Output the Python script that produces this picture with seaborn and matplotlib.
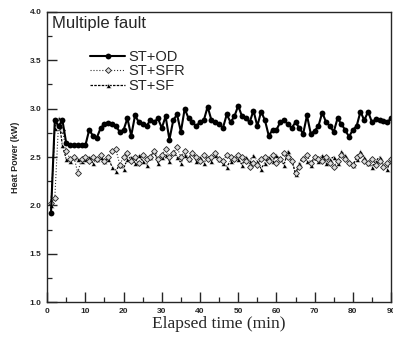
import matplotlib
matplotlib.use("Agg")
import matplotlib.pyplot as plt
import seaborn as sns
import numpy as np
import pandas as pd

# elapsed time (min)
time_min = np.arange(1, 91)

st_od = [1.92, 2.88, 2.82, 2.88, 2.64, 2.62, 2.62, 2.62, 2.62, 2.62,
         2.78, 2.72, 2.70, 2.80, 2.84, 2.85, 2.84, 2.82, 2.76, 2.78,
         2.90, 2.72, 2.93, 2.86, 2.84, 2.82, 2.88, 2.86, 2.90, 2.80,
         2.92, 2.68, 2.88, 2.94, 2.76, 3.00, 2.90, 2.86, 2.82, 2.86,
         2.88, 3.02, 2.88, 2.86, 2.84, 2.80, 2.94, 2.86, 2.92, 3.03,
         2.92, 2.90, 2.86, 2.98, 2.82, 2.97, 2.88, 2.72, 2.78, 2.78,
         2.86, 2.88, 2.84, 2.80, 2.86, 2.80, 2.74, 2.93, 2.74, 2.77,
         2.82, 2.96, 2.86, 2.82, 2.76, 2.90, 2.84, 2.78, 2.71, 2.78,
         2.82, 2.97, 2.88, 2.97, 2.86, 2.89, 2.88, 2.87, 2.86, 2.90]

st_sfr = [2.02, 2.08, 2.86, 2.78, 2.56, 2.48, 2.50, 2.34, 2.48, 2.50,
          2.46, 2.50, 2.48, 2.52, 2.46, 2.50, 2.56, 2.58, 2.42, 2.50,
          2.54, 2.46, 2.50, 2.44, 2.52, 2.48, 2.50, 2.56, 2.48, 2.52,
          2.58, 2.50, 2.54, 2.60, 2.50, 2.56, 2.48, 2.54, 2.50, 2.46,
          2.52, 2.48, 2.50, 2.54, 2.48, 2.46, 2.52, 2.50, 2.48, 2.52,
          2.50, 2.46, 2.40, 2.44, 2.42, 2.48, 2.50, 2.46, 2.52, 2.44,
          2.48, 2.54, 2.50, 2.46, 2.34, 2.40, 2.48, 2.52, 2.44, 2.50,
          2.48, 2.46, 2.50, 2.44, 2.40, 2.46, 2.52, 2.48, 2.44, 2.42,
          2.50, 2.52, 2.46, 2.44, 2.48, 2.42, 2.46, 2.40, 2.44, 2.48]

st_sf = [2.00, 2.80, 2.90, 2.62, 2.48, 2.46, 2.50, 2.48, 2.46, 2.48,
         2.50, 2.44, 2.48, 2.50, 2.46, 2.48, 2.40, 2.36, 2.42, 2.38,
         2.48, 2.50, 2.44, 2.52, 2.46, 2.42, 2.50, 2.56, 2.44, 2.50,
         2.52, 2.46, 2.56, 2.50, 2.44, 2.52, 2.48, 2.56, 2.46, 2.50,
         2.44, 2.50, 2.46, 2.52, 2.48, 2.44, 2.40, 2.46, 2.50, 2.48,
         2.42, 2.50, 2.46, 2.52, 2.46, 2.38, 2.44, 2.50, 2.46, 2.52,
         2.48, 2.42, 2.56, 2.48, 2.32, 2.44, 2.50, 2.46, 2.42, 2.50,
         2.46, 2.52, 2.44, 2.48, 2.50, 2.44, 2.56, 2.52, 2.46, 2.42,
         2.48, 2.56, 2.50, 2.44, 2.40, 2.46, 2.50, 2.42, 2.38, 2.46]

sns.set_style("ticks")
plt.rcParams["font.family"] = ["Liberation Sans", "DejaVu Sans"]

fig = plt.figure(figsize=(3.93, 3.41), dpi=100)
ax = fig.add_axes([0.12, 0.114, 0.875, 0.851])

df = pd.DataFrame({"t": time_min, "od": st_od, "sfr": st_sfr, "sf": st_sf})

sns.lineplot(data=df, x="t", y="sf", ax=ax, color="black", lw=0.9,
             linestyle=(0, (2, 1)), marker="^", markersize=3.6,
             markeredgewidth=0.4, label="ST+SF")
sns.lineplot(data=df, x="t", y="sfr", ax=ax, color="#333333", lw=0.8,
             linestyle=":", marker="D", markersize=3.0, markerfacecolor="#dddddd",
             markeredgecolor="#222222", markeredgewidth=0.6, label="ST+SFR")
sns.lineplot(data=df, x="t", y="od", ax=ax, color="black", lw=1.5,
             marker="o", markersize=4.2, markeredgewidth=0, label="ST+OD")

ax.set_xlim(0, 90)
ax.set_ylim(1.0, 4.0)
ax.set_xticks(np.arange(0, 91, 10))
ax.set_xticks(np.arange(5, 90, 10), minor=True)
ax.set_yticks(np.arange(1.0, 4.01, 0.5))
ax.set_yticks(np.arange(1.25, 4.0, 0.5), minor=True)
ax.set_yticklabels([f"{v:.1f}" for v in np.arange(1.0, 4.01, 0.5)])
ax.tick_params(axis="both", which="major", direction="in", length=7,
               width=1.0, labelsize=6, pad=4)
ax.tick_params(axis="both", which="minor", direction="in", length=3.5, width=0.9)
for lab in ax.get_xticklabels() + ax.get_yticklabels():
    lab.set_fontweight("heavy")
for sp in ax.spines.values():
    sp.set_visible(True)
    sp.set_linewidth(1.0)

ax.set_xlabel("Elapsed time (min)", family=["Liberation Serif", "DejaVu Serif"],
              fontsize=12.5, labelpad=1)
ax.set_ylabel("Heat Power (kW)", fontsize=6.5, fontweight="bold", labelpad=7)

ax.text(0.015, 0.985, "Multiple fault", transform=ax.transAxes, fontsize=12,
        va="top", ha="left")
handles, labels = ax.get_legend_handles_labels()
order = [2, 1, 0]
ax.legend([handles[i] for i in order], [labels[i] for i in order],
          loc="upper left", bbox_to_anchor=(0.1, 0.90), frameon=False,
          fontsize=10.5, handlelength=2.4, handletextpad=0.2, labelspacing=0.05,
          borderpad=0.1)

fig.savefig("out.png", dpi=100)
